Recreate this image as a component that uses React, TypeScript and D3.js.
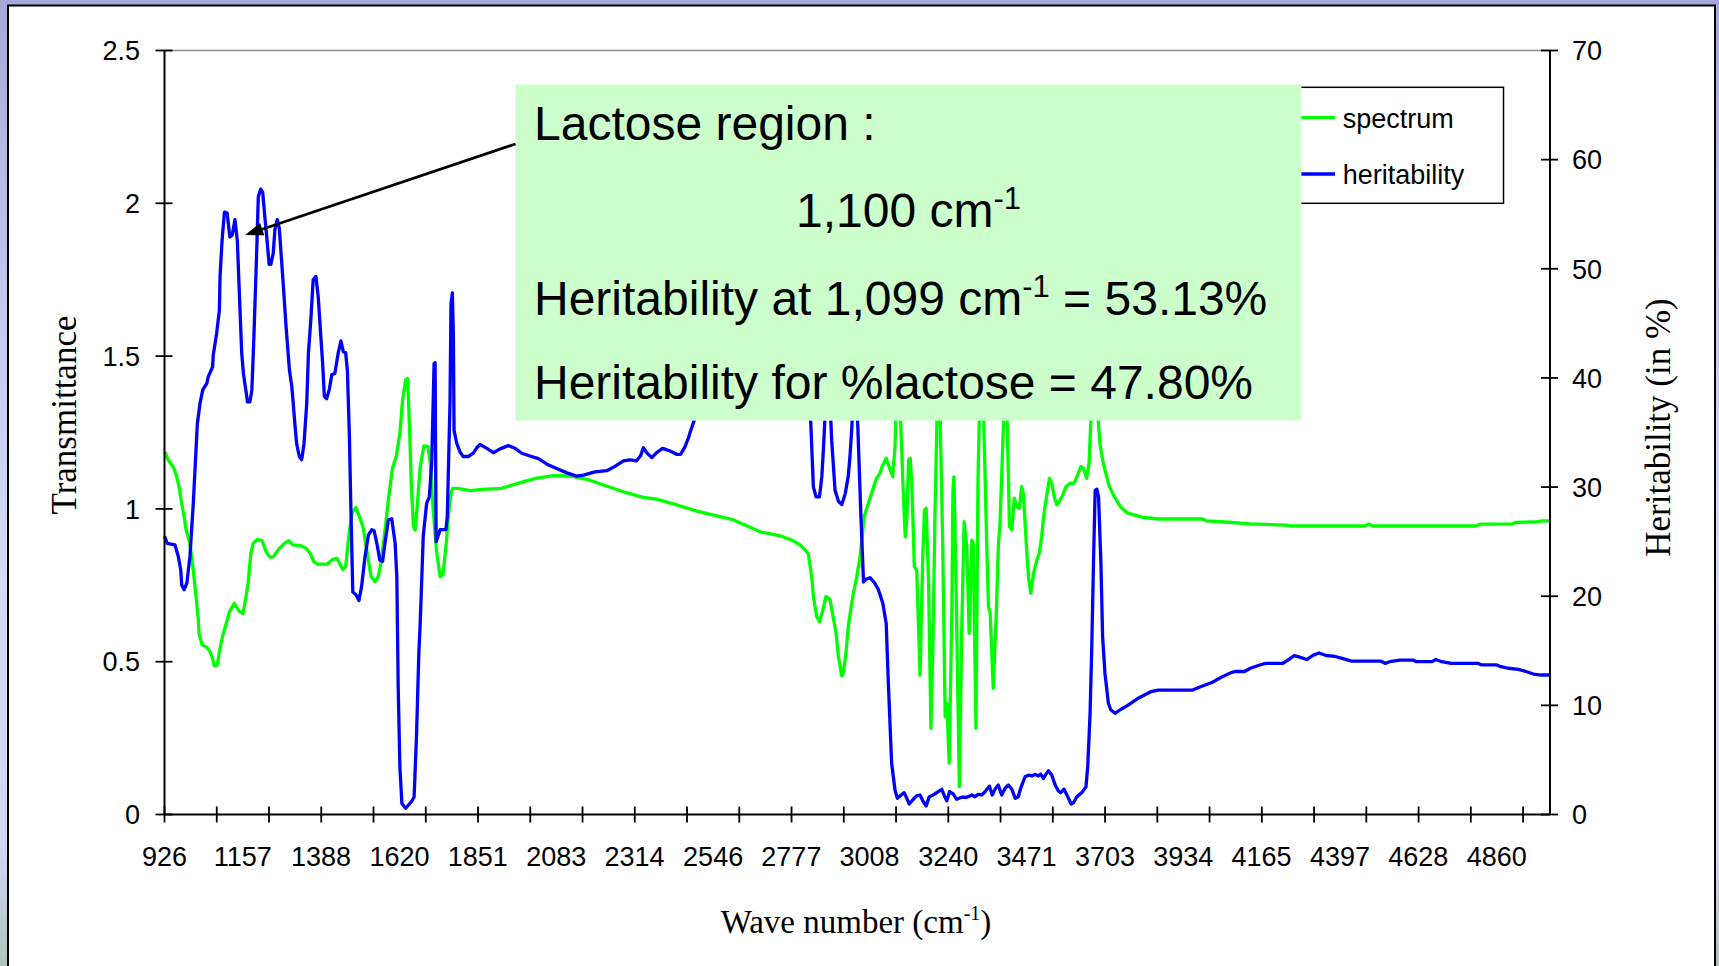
import { useEffect } from "react";
import * as d3 from "d3";

// x axis (wave numbers, cm-1)
const WAVE_LABELS = ["926", "1157", "1388", "1620", "1851", "2083", "2314", "2546", "2777", "3008", "3240", "3471", "3703", "3934", "4165", "4397", "4628", "4860"];
const WAVE_MIN = 926;
const WAVE_MAX = 5017;
const MINOR_STEP = 154.29;

const TRANS_TICKS = [0, 0.5, 1, 1.5, 2, 2.5];
const HERIT_TICKS = [0, 10, 20, 30, 40, 50, 60, 70];

// spectrum: [wave number, transmittance]
const SPECTRUM: [number, number][] = [
  [926, 1.187], [937, 1.16], [954, 1.133], [962, 1.105], [969, 1.073], [975, 1.029], [984, 0.974], [990, 0.931],
  [1001, 0.887], [1011, 0.8], [1019, 0.713], [1026, 0.636], [1028, 0.593], [1037, 0.555], [1051, 0.547], [1060, 0.533],
  [1068, 0.511], [1073, 0.486], [1082, 0.489], [1087, 0.527], [1096, 0.577], [1107, 0.62], [1118, 0.664], [1132, 0.691],
  [1147, 0.664], [1158, 0.658], [1163, 0.691], [1173, 0.757], [1181, 0.855], [1188, 0.887], [1200, 0.9], [1214, 0.896],
  [1226, 0.86], [1237, 0.842], [1248, 0.844], [1263, 0.868], [1282, 0.889], [1293, 0.896], [1305, 0.882], [1327, 0.88],
  [1344, 0.871], [1356, 0.855], [1367, 0.827], [1378, 0.819], [1406, 0.819], [1423, 0.835], [1435, 0.838], [1443, 0.822],
  [1452, 0.802], [1461, 0.811], [1471, 0.92], [1480, 0.986], [1491, 1.005], [1502, 0.974], [1512, 0.942], [1520, 0.887],
  [1528, 0.833], [1536, 0.778], [1548, 0.762], [1557, 0.778], [1565, 0.822], [1576, 0.92], [1587, 1.029], [1599, 1.133],
  [1610, 1.171], [1621, 1.247], [1629, 1.356], [1638, 1.422], [1644, 1.427], [1650, 1.247], [1655, 1.073], [1661, 0.942],
  [1666, 0.931], [1672, 1.007], [1681, 1.138], [1692, 1.206], [1704, 1.204], [1712, 1.138], [1717, 1.029], [1729, 0.865],
  [1740, 0.778], [1748, 0.784], [1757, 0.876], [1765, 0.986], [1772, 1.051], [1777, 1.067], [1791, 1.067], [1830, 1.06],
  [1864, 1.064], [1921, 1.067], [1943, 1.075], [1977, 1.086], [2022, 1.1], [2074, 1.109], [2123, 1.108], [2173, 1.097],
  [2222, 1.078], [2281, 1.056], [2340, 1.038], [2379, 1.032], [2438, 1.013], [2498, 0.993], [2557, 0.977], [2606, 0.964],
  [2645, 0.945], [2685, 0.925], [2744, 0.912], [2778, 0.898], [2803, 0.882], [2822, 0.86], [2827, 0.852], [2837, 0.778],
  [2842, 0.713], [2852, 0.647], [2860, 0.631], [2870, 0.669], [2879, 0.713], [2891, 0.704], [2901, 0.642], [2909, 0.593],
  [2916, 0.516], [2926, 0.453], [2930, 0.462], [2938, 0.527], [2945, 0.615], [2955, 0.691], [2960, 0.724], [2970, 0.778],
  [2980, 0.844], [2992, 0.974], [3004, 1.018], [3014, 1.051], [3027, 1.097], [3039, 1.118], [3044, 1.136], [3057, 1.166],
  [3068, 1.13], [3076, 1.105], [3083, 1.204], [3091, 1.55], [3106, 1.095], [3113, 0.909], [3118, 0.964], [3123, 1.16],
  [3128, 1.166], [3133, 1.073], [3140, 0.811], [3147, 0.8], [3157, 0.456], [3165, 0.844], [3170, 0.996], [3175, 1.002],
  [3182, 0.767], [3189, 0.282], [3195, 0.549], [3201, 0.986], [3212, 1.55], [3224, 0.876], [3231, 0.32], [3236, 0.364],
  [3243, 0.168], [3251, 0.68], [3254, 1.062], [3257, 1.105], [3263, 0.767], [3273, 0.091], [3280, 0.604], [3287, 0.958],
  [3295, 0.876], [3302, 0.593], [3310, 0.898], [3314, 0.887], [3322, 0.282], [3328, 1.095], [3338, 1.6], [3354, 0.876],
  [3359, 0.68], [3364, 0.658], [3373, 0.413], [3382, 0.658], [3388, 0.876], [3393, 0.953], [3401, 1.204], [3410, 1.5],
  [3421, 0.942], [3428, 0.931], [3435, 1.035], [3443, 1.007], [3450, 1.002], [3457, 1.073], [3462, 1.051], [3470, 0.898],
  [3477, 0.778], [3484, 0.724], [3492, 0.789], [3502, 0.833], [3509, 0.855], [3516, 0.909], [3523, 0.986], [3531, 1.045],
  [3539, 1.1], [3546, 1.084], [3553, 1.04], [3561, 1.013], [3568, 1.024], [3578, 1.045], [3588, 1.073], [3600, 1.084],
  [3612, 1.084], [3620, 1.105], [3632, 1.138], [3639, 1.133], [3649, 1.1], [3656, 1.149], [3669, 1.5], [3688, 1.215],
  [3696, 1.16], [3703, 1.127], [3716, 1.073], [3728, 1.045], [3748, 1.008], [3770, 0.986], [3815, 0.972], [3861, 0.967],
  [3991, 0.967], [4002, 0.961], [4047, 0.958], [4132, 0.951], [4239, 0.947], [4250, 0.944], [4471, 0.944], [4482, 0.951],
  [4493, 0.944], [4798, 0.944], [4810, 0.95], [4906, 0.951], [4917, 0.956], [4979, 0.958], [4996, 0.961], [5017, 0.961],
];

// heritability: [wave number, %]
const HERITABILITY: [number, number][] = [
  [926, 25.5], [934, 24.85], [957, 24.7], [967, 23.6], [974, 22.4], [977, 21.0], [984, 20.6], [992, 21.2],
  [1001, 23.6], [1011, 28.5], [1021, 34.6], [1023, 35.8], [1031, 37.7], [1039, 38.9], [1051, 39.5], [1055, 40.1],
  [1068, 41.0], [1070, 42.1], [1080, 44.1], [1088, 46.2], [1090, 49.3], [1096, 52.6], [1103, 55.2], [1111, 55.1],
  [1119, 52.9], [1126, 53.1], [1134, 54.5], [1141, 52.6], [1149, 46.2], [1154, 42.3], [1159, 40.4], [1167, 38.7],
  [1171, 37.8], [1178, 37.8], [1184, 38.9], [1190, 43.8], [1198, 51.4], [1203, 56.6], [1210, 57.3], [1216, 57.0],
  [1223, 54.5], [1228, 52.9], [1235, 50.4], [1240, 50.4], [1247, 51.4], [1252, 53.6], [1259, 54.5], [1265, 53.7],
  [1275, 49.3], [1285, 44.7], [1295, 40.7], [1302, 39.2], [1311, 35.8], [1316, 34.0], [1324, 32.8], [1331, 32.5],
  [1338, 34.0], [1346, 37.7], [1351, 42.3], [1358, 45.3], [1365, 49.0], [1373, 49.3], [1380, 47.4], [1385, 45.0],
  [1393, 41.3], [1398, 38.3], [1405, 38.1], [1413, 39.0], [1420, 40.3], [1429, 40.4], [1439, 42.3], [1447, 43.4],
  [1454, 42.4], [1461, 42.3], [1466, 40.7], [1472, 34.6], [1476, 28.5], [1482, 20.4], [1492, 20.1], [1500, 19.6],
  [1508, 20.9], [1518, 23.6], [1528, 25.6], [1538, 26.1], [1545, 26.0], [1553, 24.85], [1562, 23.3], [1570, 23.2],
  [1577, 24.85], [1587, 27.0], [1597, 27.1], [1607, 24.85], [1612, 21.8], [1614, 16.9], [1616, 11.7], [1621, 4.4],
  [1627, 1.0], [1638, 0.57], [1655, 1.17], [1663, 1.6], [1670, 7.1], [1677, 14.8], [1681, 17.5], [1690, 25.5],
  [1700, 28.5], [1708, 29.1], [1715, 32.2], [1722, 41.3], [1725, 41.4], [1728, 25.0], [1740, 26.1], [1757, 26.1],
  [1761, 27.3], [1769, 37.7], [1772, 46.8], [1776, 47.8], [1779, 43.8], [1781, 35.2], [1789, 34.0], [1799, 33.2],
  [1808, 32.8], [1823, 32.8], [1838, 33.1], [1848, 33.6], [1858, 33.9], [1878, 33.55], [1897, 33.15], [1917, 33.5],
  [1941, 33.8], [1961, 33.55], [1981, 33.1], [2005, 32.85], [2030, 32.6], [2055, 32.1], [2084, 31.7], [2114, 31.3],
  [2143, 31.0], [2163, 31.1], [2197, 31.4], [2232, 31.5], [2256, 31.9], [2281, 32.4], [2301, 32.5], [2320, 32.4],
  [2332, 32.9], [2340, 33.6], [2350, 33.15], [2365, 32.7], [2379, 33.15], [2397, 33.55], [2419, 33.3], [2438, 33.0],
  [2450, 33.0], [2463, 33.7], [2473, 34.5], [2480, 35.2], [2490, 36.1], [2520, 41], [2580, 46], [2650, 49],
  [2720, 47], [2790, 43], [2834, 36.1], [2842, 30.0], [2850, 29.1], [2860, 29.1], [2867, 31.0], [2872, 33.7],
  [2885, 42], [2896, 34.3], [2906, 29.7], [2916, 28.7], [2926, 28.4], [2936, 29.4], [2945, 31.0], [2950, 32.8],
  [2955, 35.2], [2966, 42], [2982, 27.6], [2990, 21.3], [2997, 21.55], [3009, 21.7], [3021, 21.3], [3034, 20.6],
  [3047, 19.35], [3057, 17.5], [3063, 12.3], [3073, 4.7], [3083, 2.24], [3090, 1.48], [3101, 1.79], [3110, 2.0],
  [3118, 1.48], [3125, 0.96], [3135, 1.33], [3147, 1.7], [3157, 1.79], [3165, 1.26], [3175, 0.78], [3184, 1.63],
  [3196, 1.79], [3206, 2.0], [3221, 2.31], [3229, 1.7], [3236, 1.26], [3244, 2.09], [3255, 1.88], [3265, 1.39],
  [3280, 1.58], [3295, 1.58], [3310, 1.79], [3319, 1.63], [3329, 1.85], [3339, 1.79], [3349, 2.09], [3362, 2.6],
  [3370, 1.79], [3380, 2.4], [3388, 2.7], [3398, 1.79], [3408, 2.4], [3418, 2.7], [3428, 2.31], [3438, 1.48],
  [3447, 1.63], [3454, 2.4], [3467, 3.46], [3477, 3.6], [3487, 3.53], [3497, 3.68], [3506, 3.53], [3513, 3.7],
  [3521, 3.3], [3529, 3.7], [3536, 4.0], [3546, 3.6], [3556, 2.7], [3565, 2.18], [3572, 2.0], [3582, 2.31],
  [3592, 1.7], [3603, 0.96], [3610, 1.08], [3620, 1.63], [3634, 2.0], [3647, 2.55], [3652, 4.38], [3659, 9.27],
  [3664, 15.4], [3669, 23.0], [3674, 29.7], [3679, 29.8], [3684, 29.1], [3691, 23.0], [3696, 16.3], [3703, 12.9],
  [3713, 10.2], [3720, 9.6], [3733, 9.27], [3748, 9.6], [3770, 10.0], [3804, 10.7], [3838, 11.25], [3861, 11.4],
  [3962, 11.4], [3985, 11.7], [4019, 12.1], [4042, 12.5], [4075, 13.0], [4087, 13.1], [4115, 13.1], [4132, 13.4],
  [4160, 13.7], [4177, 13.85], [4228, 13.85], [4245, 14.2], [4262, 14.55], [4273, 14.46], [4299, 14.2], [4318, 14.6],
  [4335, 14.8], [4358, 14.55], [4380, 14.5], [4403, 14.3], [4431, 14.06], [4516, 14.06], [4530, 13.85], [4544, 14.0],
  [4573, 14.15], [4612, 14.15], [4623, 14.0], [4669, 14.0], [4680, 14.2], [4697, 14.0], [4725, 13.85], [4804, 13.85],
  [4815, 13.7], [4860, 13.7], [4872, 13.54], [4894, 13.4], [4923, 13.3], [4946, 13.1], [4968, 12.87], [4991, 12.78],
  [5017, 12.78],
];

const SANS = "'Liberation Sans', Arial, sans-serif";
const SERIF = "'Liberation Serif', 'Times New Roman', serif";
const GREEN = "#00FF00";
const BLUE = "#0000FF";

export default function App() {
  useEffect(() => {
    document.body.style.margin = "0";
  }, []);

  const width = 1719;
  const height = 966;
  const left = 164.5;
  const right = 1550;
  const top = 50.5;
  const bottom = 814.5;

  const x = d3.scaleLinear().domain([WAVE_MIN, WAVE_MAX]).range([left, right]);
  const yT = d3.scaleLinear().domain([0, 2.5]).range([bottom, top]);
  const yH = d3.scaleLinear().domain([0, 70]).range([bottom, top]);

  const spectrumLine = d3.line<[number, number]>().x((d) => x(d[0])).y((d) => yT(d[1]));
  const heritLine = d3.line<[number, number]>().x((d) => x(d[0])).y((d) => yH(d[1]));

  const minorTicks = d3.range(WAVE_MIN, WAVE_MAX, MINOR_STEP);

  // arrow from the note box to the lactose peak
  const from: [number, number] = [515.5, 144];
  const tip: [number, number] = [x(1164), yH(53.1)];
  const dx = tip[0] - from[0];
  const dy = tip[1] - from[1];
  const len = Math.hypot(dx, dy);
  const ux = dx / len;
  const uy = dy / len;
  const base: [number, number] = [tip[0] - ux * 18, tip[1] - uy * 18];
  const head = [
    tip,
    [base[0] - uy * 6.5, base[1] + ux * 6.5],
    [base[0] + uy * 6.5, base[1] - ux * 6.5],
  ].map((p) => p.join(",")).join(" ");

  return (
    <svg width={width} height={height} style={{ display: "block" }}>
      <defs>
        <linearGradient id="frame" x1="0" y1="0" x2="0" y2="1">
          <stop offset="0%" stopColor="#A4A9DB" />
          <stop offset="35%" stopColor="#C4CCF0" />
          <stop offset="60%" stopColor="#D2DCFA" />
          <stop offset="88%" stopColor="#CDD8F2" />
          <stop offset="100%" stopColor="#AFC2C0" />
        </linearGradient>
      </defs>
      <rect x={0} y={0} width={width} height={height} fill="url(#frame)" />
      <rect x={8} y={5.5} width={1707} height={1000} fill="#FFFFFF" stroke="#000" strokeWidth={2} />

      {/* plot area top border */}
      <line x1={left} x2={right} y1={top} y2={top} stroke="#8C8C8C" strokeWidth={1.5} />

      {/* series */}
      <path d={spectrumLine(SPECTRUM) ?? ""} fill="none" stroke={GREEN} strokeWidth={3.3} strokeLinejoin="round" />
      <path d={heritLine(HERITABILITY) ?? ""} fill="none" stroke={BLUE} strokeWidth={3.3} strokeLinejoin="round" />

      {/* left axis */}
      <line x1={left} x2={left} y1={top} y2={bottom} stroke="#000" strokeWidth={2} />
      {TRANS_TICKS.map((t) => (
        <g key={"l" + t}>
          <line x1={left - 9} x2={left + 8} y1={yT(t)} y2={yT(t)} stroke="#000" strokeWidth={1.8} />
          <text x={140} y={yT(t)} dy="0.36em" textAnchor="end" fontFamily={SANS} fontSize={27} fill="#000">
            {String(t)}
          </text>
        </g>
      ))}

      {/* right axis */}
      <line x1={right} x2={right} y1={top} y2={bottom} stroke="#000" strokeWidth={2} />
      {HERIT_TICKS.map((t) => (
        <g key={"r" + t}>
          <line x1={right - 9} x2={right + 8} y1={yH(t)} y2={yH(t)} stroke="#000" strokeWidth={1.8} />
          <text x={1572} y={yH(t)} dy="0.36em" textAnchor="start" fontFamily={SANS} fontSize={27} fill="#000">
            {String(t)}
          </text>
        </g>
      ))}

      {/* bottom axis */}
      <line x1={left} x2={right} y1={bottom} y2={bottom} stroke="#000" strokeWidth={2} />
      {minorTicks.map((t) => (
        <line key={"m" + t} x1={x(t)} x2={x(t)} y1={bottom - 8} y2={bottom + 8} stroke="#000" strokeWidth={1.8} />
      ))}
      {WAVE_LABELS.map((l) => (
        <text key={"w" + l} x={x(+l)} y={866} textAnchor="middle" fontFamily={SANS} fontSize={27} fill="#000">
          {l}
        </text>
      ))}

      {/* axis titles */}
      <text x={856} y={933} textAnchor="middle" fontFamily={SERIF} fontSize={33} fill="#000">
        Wave number (cm<tspan dy={-13} fontSize={20}>-1</tspan><tspan dy={13}>)</tspan>
      </text>
      <text transform="translate(76,415) rotate(-90)" textAnchor="middle" fontFamily={SERIF} fontSize={35} fill="#000">
        Transmittance
      </text>
      <text transform="translate(1670,427.5) rotate(-90)" textAnchor="middle" fontFamily={SERIF} fontSize={35} fill="#000">
        Heritability (in %)
      </text>

      {/* legend */}
      <rect x={1290} y={87.3} width={213.5} height={116} fill="#FFFFFF" stroke="#000" strokeWidth={1.5} />
      <line x1={1296} x2={1335} y1={117.7} y2={117.7} stroke={GREEN} strokeWidth={3.3} />
      <text x={1342.7} y={127.5} fontFamily={SANS} fontSize={27} fill="#000">spectrum</text>
      <line x1={1296} x2={1335} y1={174} y2={174} stroke={BLUE} strokeWidth={3.3} />
      <text x={1342.7} y={184} fontFamily={SANS} fontSize={27} fill="#000">heritability</text>

      {/* note */}
      <rect x={515.5} y={84.3} width={785.9} height={336.4} fill="#CCFFCC" />
      <g fontFamily={SANS} fontSize={48} fill="#000">
        <text x={534} y={140}>Lactose region :</text>
        <text x={908.5} y={227} textAnchor="middle">
          1,100 cm<tspan dy={-18} fontSize={31}>-1</tspan>
        </text>
        <text x={534} y={314.6}>
          Heritability at 1,099 cm<tspan dy={-18} fontSize={31}>-1</tspan>
          <tspan dy={18}> = 53.13%</tspan>
        </text>
        <text x={534} y={399}>Heritability for %lactose = 47.80%</text>
      </g>
      <line x1={from[0]} y1={from[1]} x2={base[0]} y2={base[1]} stroke="#000" strokeWidth={2.8} />
      <polygon points={head} fill="#000" />
    </svg>
  );
}
